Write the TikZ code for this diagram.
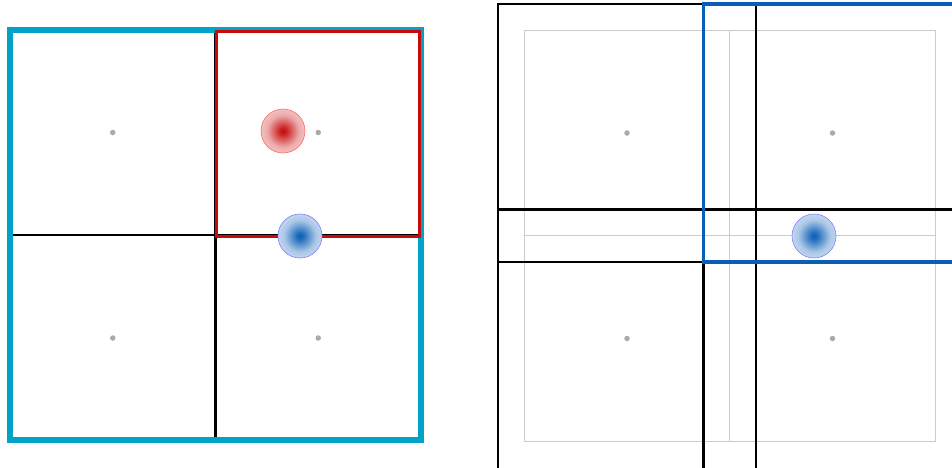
\documentclass[tikz,border=0pt]{standalone}
\usetikzlibrary{positioning,calc}
\definecolor{tealedge}{HTML}{00A2C8}
\definecolor{rededge}{HTML}{C80A0A}
\definecolor{blueedge}{HTML}{0A5EB6}
\definecolor{dotgray}{HTML}{AAAAAA}
\definecolor{cellgray}{HTML}{CCCCCC}
\pgfdeclareradialshading{redglow}{\pgfpoint{0bp}{0bp}}{%
    color(0bp)=(rededge); color(4bp)=(rededge!90); color(18bp)=(rededge!35); color(40bp)=(rededge!5); color(50bp)=(white)}
\pgfdeclareradialshading{blueglow}{\pgfpoint{0bp}{0bp}}{%
    color(0bp)=(blueedge); color(4bp)=(blueedge!90); color(18bp)=(blueedge!35); color(40bp)=(blueedge!5); color(50bp)=(white)}
\tikzset{
    cell/.style={
        draw=black,
        line width=2.4pt,
        inner sep=0pt,
        minimum size=205.5pt
    },
    softcell/.style={
        draw=cellgray,
        line width=1pt,
        inner sep=0pt,
        minimum size=205.5pt
    },
    widecell/.style={
        draw=black,
        line width=2.4pt,
        inner sep=0pt,
        minimum size=258pt
    },
    dot/.style={
        circle,
        fill=dotgray,
        inner sep=0pt,
        minimum size=5.5pt
    },
    redblob/.style={
        circle,
        draw=red!60,
        line width=0.6pt,
        shading=redglow,
        inner sep=0pt,
        minimum size=44pt
    },
    blueblob/.style={
        circle,
        draw=blue!50,
        line width=0.6pt,
        shading=blueglow,
        inner sep=0pt,
        minimum size=44pt
    }
}

\begin{document}
\begin{tikzpicture}[x=1pt, y=-1pt]
    \useasboundingbox (0,0) rectangle (952,467);
    \clip (0,0) rectangle (952,467);

    % left panel
    \node[cell] (lA) at (112.75,132.5) {};
    \node[cell] (lB) at (318.25,132.5) {};
    \node[cell] (lC) at (112.75,337.5) {};
    \node[cell] (lD) at (318.25,337.5) {};
    \node[draw=tealedge, line width=5.5pt, inner sep=0pt, minimum width=411pt, minimum height=410pt] (lOuter) at (215.5,235) {};
    \node[cell, draw=rededge, line width=3pt, minimum width=203pt, minimum height=205pt] (lHot) at (317.5,133.5) {};

    % right panel
    \node[softcell] (rA) at (627,133) {};
    \node[softcell] (rB) at (832.5,133) {};
    \node[softcell] (rC) at (627,338.5) {};
    \node[softcell] (rD) at (832.5,338.5) {};
    \node[widecell] (wA) at (627,133) {};
    \node[widecell, minimum height=264pt] (wC) at (627,341.5) {};
    \node[widecell, minimum height=264pt] (wD) at (832.5,341.5) {};
    \node[widecell, draw=blueedge, line width=3.5pt] (wB) at (832.5,133) {};

    % sample points
    \foreach \n/\x/\y in {a/112.75/132.5, b/318.25/132.5, c/112.75/338, d/318.25/338,
                         e/627/133, f/832.5/133, g/627/338.5, h/832.5/338.5}
        \node[dot] (dot\n) at (\x,\y) {};

    \node[redblob] (hotL) at (283,131) {};
    \node[blueblob] (coldL) at (300,236) {};
    \node[blueblob] (coldR) at (814,236) {};
\end{tikzpicture}
\end{document}
